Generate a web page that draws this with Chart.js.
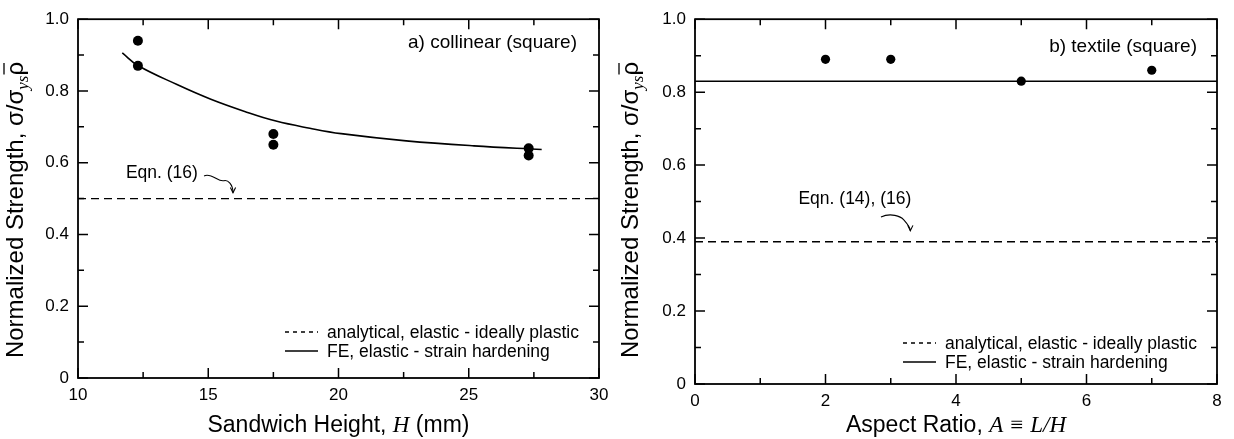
<!DOCTYPE html>
<html>
<head>
<meta charset="utf-8">
<script src="https://cdn.jsdelivr.net/npm/chart.js@4.4.1/dist/chart.umd.min.js"></script>
<style>
  html, body { margin: 0; padding: 0; background: #fff; }
  .panel { position: absolute; top: 0; width: 617px; height: 439px; }
  #pa { left: 0; }
  #pb { left: 617px; }
</style>
</head>
<body>
<div class="panel" id="pa"><canvas id="chart-a" width="617" height="439"></canvas></div>
<div class="panel" id="pb"><canvas id="chart-b" width="617" height="439"></canvas></div>
<script>
// Strength vs sandwich height / aspect ratio — two panels

const SANS = '"Liberation Sans", Arial, Helvetica, sans-serif';
const SERIF = '"Liberation Serif", "Times New Roman", serif';

// ── Panel a) collinear (square) ──
const heightTicks = [10, 15, 20, 25, 30];
const heightPts = [12.3, 12.3, 17.5, 17.5, 27.3, 27.3];
const heightStrength = [0.94, 0.87, 0.68, 0.65, 0.64, 0.62];
const feHeight = [11.7, 12.3, 13.8, 15.1, 16.4, 17.6, 18.9, 20.1, 22.6, 25.2, 27.8];
const feHeightStrength = [0.906, 0.871, 0.818, 0.777, 0.743, 0.716, 0.696, 0.681, 0.661, 0.647, 0.637];
const anaHeight = [10, 30];
const anaHeightStrength = [0.5, 0.5];

// ── Panel b) textile (square) ──
const aspectTicks = [0, 2, 4, 6, 8];
const aspectPts = [2, 3, 5, 7];
const aspectStrength = [0.89, 0.89, 0.83, 0.86];
const feAspect = [0, 8];
const feAspectStrength = [0.83, 0.83];
const anaAspect = [0, 8];
const anaAspectStrength = [0.39, 0.39];

const strengthTicks = [0, 0.2, 0.4, 0.6, 0.8, 1.0];

const legendLabels = ['analytical, elastic - ideally plastic', 'FE, elastic - strain hardening'];

const toXY = (xs, ys) => xs.map((x, i) => ({ x, y: ys[i] }));

// draw a run of text pieces with their own fonts / offsets
function drawRuns(ctx, runs, cx, cy) {
  let total = 0;
  runs.forEach(r => { ctx.font = r.font; r.w = ctx.measureText(r.text).width; total += r.w; });
  let x = cx - total / 2;
  ctx.textBaseline = 'alphabetic';
  ctx.textAlign = 'left';
  runs.forEach(r => {
    ctx.font = r.font;
    ctx.fillText(r.text, x, cy + (r.dy || 0));
    if (r.overline) {
      ctx.beginPath();
      ctx.lineWidth = 1.3;
      ctx.moveTo(x + 1, cy - r.overline);
      ctx.lineTo(x + r.w - 1, cy - r.overline);
      ctx.stroke();
    }
    x += r.w;
  });
}

// frame + inward ticks + titles + legend + notes
const decor = {
  id: 'decor',
  afterDatasetsDraw(chart) {
    const { ctx, chartArea: a, scales: { x, y } } = chart;
    const o = chart.options.plugins.decor;
    ctx.save();
    ctx.strokeStyle = '#000';
    ctx.fillStyle = '#000';

    // frame
    ctx.lineWidth = 1.8;
    ctx.strokeRect(a.left, a.top, a.right - a.left, a.bottom - a.top);

    // ticks, major + minor, all four sides
    ctx.lineWidth = 1.5;
    const major = 10, minor = 6;
    const xt = x.ticks.map(t => t.value);
    const yt = y.ticks.map(t => t.value);
    const tickX = (v, len) => {
      const px = x.getPixelForValue(v);
      ctx.beginPath();
      ctx.moveTo(px, a.bottom); ctx.lineTo(px, a.bottom - len);
      ctx.moveTo(px, a.top); ctx.lineTo(px, a.top + len);
      ctx.stroke();
    };
    const tickY = (v, len) => {
      const py = y.getPixelForValue(v);
      ctx.beginPath();
      ctx.moveTo(a.left, py); ctx.lineTo(a.left + len, py);
      ctx.moveTo(a.right, py); ctx.lineTo(a.right - len, py);
      ctx.stroke();
    };
    xt.forEach((v, i) => {
      tickX(v, major);
      if (i < xt.length - 1) tickX((v + xt[i + 1]) / 2, minor);
    });
    yt.forEach((v, i) => {
      tickY(v, major);
      if (i < yt.length - 1) tickY((v + yt[i + 1]) / 2, minor);
    });

    // x title
    drawRuns(ctx, o.xTitle, (a.left + a.right) / 2, o.xTitleY);

    // y title (rotated)
    ctx.save();
    ctx.translate(o.yTitleX, o.yTitleY);
    ctx.rotate(-Math.PI / 2);
    drawRuns(ctx, [
      { text: 'Normalized Strength, σ/σ', font: '24px ' + SANS },
      { text: 'ys', font: 'italic 17px ' + SERIF, dy: 5 },
      { text: 'ρ', font: '24px ' + SANS, overline: 19 },
    ], 0, 8);
    ctx.restore();

    // panel label
    ctx.font = '19px ' + SANS;
    ctx.textAlign = 'right';
    ctx.textBaseline = 'middle';
    ctx.fillText(o.panel, a.right - o.panelDx, a.top + o.panelDy);

    // legend
    ctx.font = '17.5px ' + SANS;
    ctx.textAlign = 'left';
    ctx.textBaseline = 'middle';
    chart.data.datasets.filter(d => d.legendRow !== undefined).forEach(d => {
      const ly = a.bottom - o.legendRows[d.legendRow];
      const lx = a.left + o.legendX;
      ctx.save();
      ctx.lineWidth = 1.3;
      ctx.setLineDash(d.borderDash && d.borderDash.length ? [4, 4] : []);
      ctx.beginPath();
      ctx.moveTo(lx, ly); ctx.lineTo(lx + 33, ly);
      ctx.stroke();
      ctx.restore();
      ctx.fillText(legendLabels[d.legendRow], lx + 42, ly + 1);
    });

    // equation note + curly arrow
    const n = o.note;
    ctx.font = '17.5px ' + SANS;
    ctx.textAlign = 'center';
    ctx.fillText(n.text, x.getPixelForValue(n.x), y.getPixelForValue(n.y));
    const p = n.path.map(([vx, vy]) => [x.getPixelForValue(vx), y.getPixelForValue(vy)]);
    ctx.lineWidth = 1.1;
    ctx.beginPath();
    ctx.moveTo(p[0][0], p[0][1]);
    ctx.bezierCurveTo(p[1][0], p[1][1], p[2][0], p[2][1], p[3][0], p[3][1]);
    ctx.bezierCurveTo(p[4][0], p[4][1], p[5][0], p[5][1], p[6][0], p[6][1]);
    ctx.stroke();
    const [ex, ey] = p[6], [bx, by] = p[5];
    const ang = Math.atan2(ey - by, ex - bx);
    ctx.beginPath();
    ctx.moveTo(ex - 6 * Math.cos(ang - 0.45), ey - 6 * Math.sin(ang - 0.45));
    ctx.lineTo(ex, ey);
    ctx.lineTo(ex - 6 * Math.cos(ang + 0.45), ey - 6 * Math.sin(ang + 0.45));
    ctx.stroke();

    ctx.restore();
  }
};

function makePanel(id, cfg) {
  return new Chart(document.getElementById(id), {
    type: 'scatter',
    data: {
      datasets: [
        { data: toXY(cfg.anaX, cfg.anaY), showLine: true, borderColor: '#000', borderWidth: 1.3,
          borderDash: [8, 5], pointRadius: 0, legendRow: 0 },
        { data: toXY(cfg.feX, cfg.feY), showLine: true, borderColor: '#000', borderWidth: 1.6,
          pointRadius: 0, tension: 0.4, legendRow: 1 },
        { data: toXY(cfg.ptX, cfg.ptY), showLine: false, pointRadius: cfg.radius,
          pointBackgroundColor: '#000', pointBorderColor: '#000', pointBorderWidth: 0 },
      ]
    },
    options: {
      responsive: false,
      animation: false,
      events: [],
      layout: { padding: { top: cfg.top, right: cfg.right, left: 0, bottom: 0 } },
      plugins: {
        legend: { display: false },
        tooltip: { enabled: false },
        decor: cfg.decor,
      },
      scales: {
        x: {
          type: 'linear', min: cfg.xTicks[0], max: cfg.xTicks[cfg.xTicks.length - 1],
          afterBuildTicks: s => { s.ticks = cfg.xTicks.map(v => ({ value: v })); },
          afterFit: s => { s.height = cfg.xHeight; },
          ticks: { font: { family: SANS, size: 17 }, color: '#000', padding: 7, maxRotation: 0 },
          grid: { display: false, drawTicks: false },
          border: { display: false },
        },
        y: {
          type: 'linear', min: 0, max: 1,
          afterBuildTicks: s => { s.ticks = strengthTicks.map(v => ({ value: v })); },
          afterFit: s => { s.width = 78; },
          ticks: { font: { family: SANS, size: 17 }, color: '#000', padding: 9,
                   callback: v => v === 0 ? '0' : v.toFixed(1) },
          grid: { display: false, drawTicks: false },
          border: { display: false },
        }
      }
    },
    plugins: [decor]
  });
}

makePanel('chart-a', {
  xTicks: heightTicks, ptX: heightPts, ptY: heightStrength,
  feX: feHeight, feY: feHeightStrength, anaX: anaHeight, anaY: anaHeightStrength,
  radius: 5, top: 14, right: 18, xHeight: 61,
  decor: {
    xTitle: [
      { text: 'Sandwich Height, ', font: '23px ' + SANS },
      { text: 'H', font: 'italic 23px ' + SERIF },
      { text: ' (mm)', font: '23px ' + SANS },
    ],
    xTitleY: 432, yTitleX: 15, yTitleY: 210,
    panel: 'a) collinear (square)', panelDx: 22, panelDy: 24,
    legendX: 207, legendRows: [46, 27],
    note: { text: 'Eqn. (16)', x: 13.22, y: 0.571,
            path: [[14.84, 0.563], [15.1, 0.574], [15.4, 0.545], [15.6, 0.55], [15.75, 0.553], [15.95, 0.54], [15.95, 0.516]] },
  }
});

makePanel('chart-b', {
  xTicks: aspectTicks, ptX: aspectPts, ptY: aspectStrength,
  feX: feAspect, feY: feAspectStrength, anaX: anaAspect, anaY: anaAspectStrength,
  radius: 4.6, top: 19, right: 17, xHeight: 55,
  decor: {
    xTitle: [
      { text: 'Aspect Ratio, ', font: '23px ' + SANS },
      { text: 'A ≡ L/H', font: 'italic 23px ' + SERIF },
    ],
    xTitleY: 432, yTitleX: 13, yTitleY: 210,
    panel: 'b) textile (square)', panelDx: 20, panelDy: 28,
    legendX: 208, legendRows: [41, 22],
    note: { text: 'Eqn. (14), (16)', x: 2.45, y: 0.507,
            path: [[2.85, 0.458], [3.0, 0.47], [3.15, 0.46], [3.2, 0.45], [3.25, 0.44], [3.3, 0.43], [3.3, 0.42]] },
  }
});
</script>
</body>
</html>
